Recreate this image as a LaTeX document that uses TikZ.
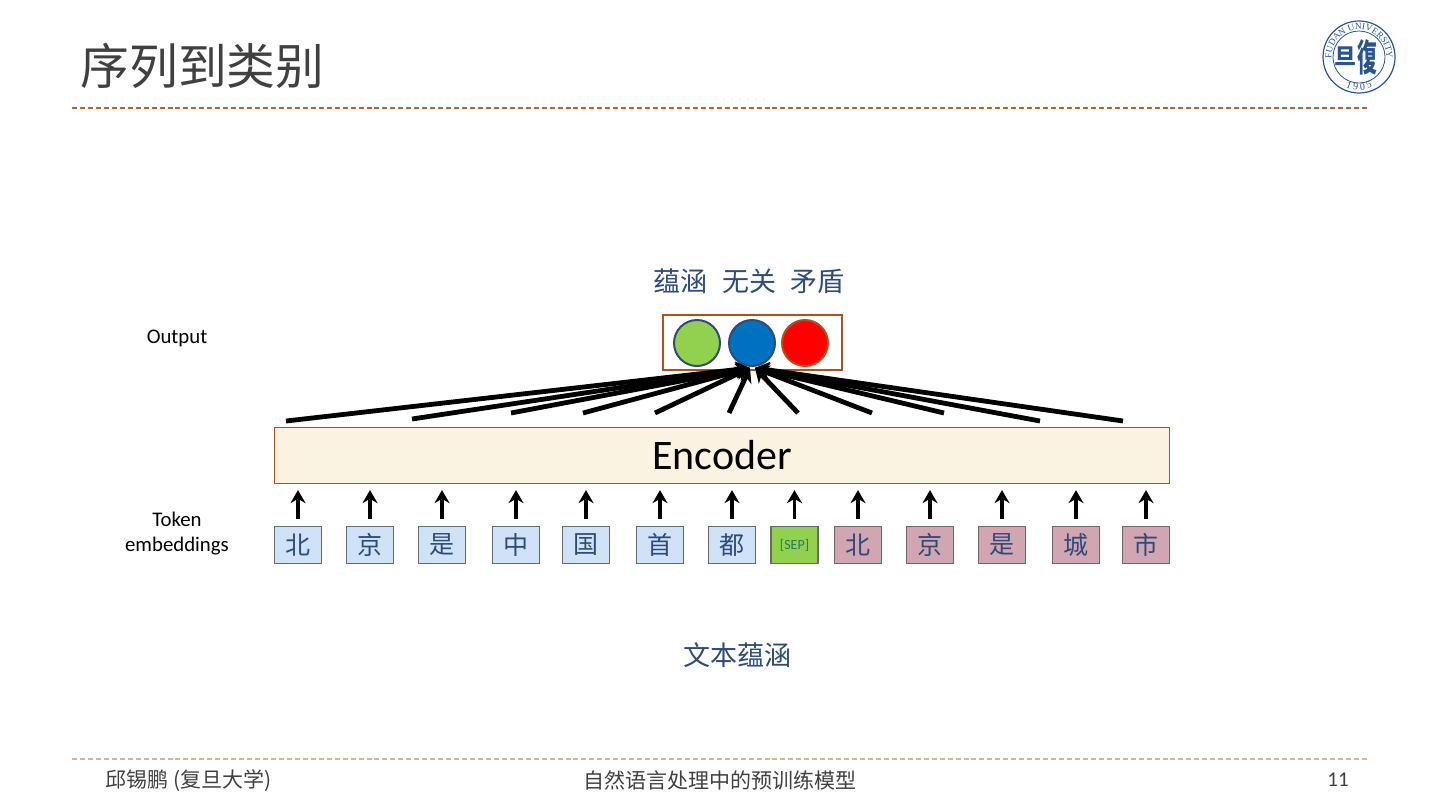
\documentclass[tikz,border=0pt]{standalone}
\usepackage{fontspec}
\setmainfont{Carlito}
\newfontfamily\cjk{Noto Sans CJK SC}
\newfontfamily\seal{Liberation Serif}
\usetikzlibrary{arrows.meta, positioning, calc, decorations.text}
\definecolor{inktitle}{HTML}{404040}
\definecolor{inkblue}{HTML}{2F4B78}
\definecolor{rust}{HTML}{B0501C}
\definecolor{encfill}{HTML}{FBF3E2}
\definecolor{tokblue}{HTML}{CFE2F8}
\definecolor{tokpink}{HTML}{D2A5B2}
\definecolor{tokgreen}{HTML}{92D050}
\definecolor{sealblue}{HTML}{28558F}
\definecolor{ruletan}{HTML}{D8B490}

\begin{document}
\begin{tikzpicture}[
    x=0.5pt, y=-0.5pt,
    tok/.style={draw=black!58, line width=0.65pt, minimum width=23.6pt, minimum height=18.6pt,
                inner sep=0pt, font=\cjk\fontsize{12.5}{14}\selectfont, text=inkblue},
    bluetok/.style={tok, fill=tokblue},
    pinktok/.style={tok, fill=tokpink},
    ball/.style={circle, line width=1pt, minimum size=23pt, inner sep=0pt},
    label/.style={font=\fontsize{10.4}{12.5}\selectfont, align=center},
    cjklabel/.style={font=\cjk\fontsize{13.5}{15}\selectfont, text=inkblue},
    footer/.style={font=\cjk\fontsize{10.5}{12}\selectfont, text=inktitle},
    rule/.style={dash pattern=on 2.5pt off 1.48pt, line width=0.6pt},
    tokarrow/.style={-{Stealth[length=6.5pt,width=7.5pt]}, line width=1.9pt, shorten <=3.5pt, shorten >=3pt},
    fanarrow/.style={-{Stealth[length=7pt,width=8pt]}, line width=2.4pt}
  ]
  \useasboundingbox (0,0) rectangle (1440,810);

  % title and rules
  \node[anchor=west, inner sep=0pt, text=inktitle, font=\cjk\fontsize{24.4}{28}\selectfont] (title) at (80,66) {序列到类别};
  \coordinate (ruleTopL) at (72,108);
  \coordinate (ruleTopR) at (1368,108);
  \coordinate (ruleBotL) at (72,759);
  \coordinate (ruleBotR) at (1368,759);
  \draw[rule, draw=rust!90] (ruleTopL) -- (ruleTopR);
  \draw[rule, draw=ruletan] (ruleBotL) -- (ruleBotR);

  % seal
  \node[circle, draw=sealblue, line width=0.6pt, minimum size=36pt, inner sep=0pt] (logo) at (1359,57) {};
  \node[circle, draw=sealblue, line width=0.4pt, minimum size=26pt, inner sep=0pt] (logoin) at (logo) {};
  \path[decorate, decoration={text along path, text align=center,
        text={|\seal\fontsize{4.6}{5}\selectfont\color{sealblue}|FUDAN UNIVERSITY}}]
    ($(logo)+(-215:27.5)$) arc[start angle=-215, end angle=35, radius=27.5];
  \path[decorate, decoration={text along path, text align=center,
        text={|\seal\fontsize{5}{5}\selectfont\color{sealblue}|1 9 0 5}}]
    ($(logo)+(122:33)$) arc[start angle=122, end angle=58, radius=33];
  \node[text=sealblue, inner sep=0pt, font=\cjk\bfseries\fontsize{11}{11}\selectfont] (logodan) at (1345,56) {旦};
  \node[text=sealblue, inner sep=0pt, xscale=0.9, yscale=1.7, font=\cjk\bfseries\fontsize{11}{11}\selectfont] (logofu) at (1367,57) {復};

  % output
  \node[draw=rust, line width=0.8pt, minimum width=89.5pt, minimum height=27.5pt, inner sep=0pt] (out) at (752.5,342.5) {};
  \node[ball, draw=inkblue, fill=tokgreen] (ballA) at (697,343) {};
  \node[ball, draw=inkblue, fill={rgb,255:red,0;green,112;blue,192}] (ballB) at (752,343) {};
  \node[ball, draw=rust, fill=red] (ballC) at (805,343) {};
  \node[cjklabel] (classes) at (749,281) {蕴涵\hspace{0.55em}无关\hspace{0.55em}矛盾};
  \node[label] (outlabel) at (177,338) {Output};

  % encoder
  \node[draw=rust, line width=0.6pt, fill=encfill, minimum width=447.5pt, minimum height=28pt,
        inner sep=0pt, font=\fontsize{21}{24}\selectfont] (enc) at (722,455.5) {Encoder};
  \coordinate (tipL) at (750,368);
  \coordinate (tipR) at (755,368);
  \foreach \nm/\x/\y in {s1/286/421, s2/412/419, s3/511/413, s4/583/413, s5/655/413, s6/729/413}
    \draw[fanarrow] (\x,\y) coordinate (\nm) -- (tipL);
  \foreach \nm/\x/\y in {s7/798/413, s8/872/413, s9/944/413, s10/1040/421, s11/1123/421}
    \draw[fanarrow] (\x,\y) coordinate (\nm) -- (tipR);

  % tokens
  \foreach \nm/\x/\ch/\st in {t1/298/北/bluetok, t2/370/京/bluetok, t3/442/是/bluetok, t4/516/中/bluetok,
                             t5/586/国/bluetok, t6/660/首/bluetok, t7/732/都/bluetok,
                             t9/858/北/pinktok, t10/930/京/pinktok, t11/1002/是/pinktok,
                             t12/1076/城/pinktok, t13/1146/市/pinktok} {
    \node[\st] (\nm) at (\x,545) {\ch};
    \draw[tokarrow] (\nm.north) -- (\nm.north |- enc.south);
  }
  \node[tok, fill=tokgreen, text=inkblue!70!green, font=\fontsize{7}{8}\selectfont] (t8) at (794.5,545) {[SEP]};
  \draw[tokarrow] (t8.north) -- (t8.north |- enc.south);
  \node[label] (toklabel) at (177,534) {Token\\embeddings};
  \node[cjklabel] (caption) at (737,655) {文本蕴涵};

  % footer
  \node[footer, anchor=west, inner sep=0pt] (author) at (105,781) {邱锡鹏 (复旦大学)};
  \node[footer, inner sep=0pt] (talk) at (720,780) {自然语言处理中的预训练模型};
  \node[footer, font=\fontsize{10.5}{12}\selectfont, inner sep=0pt] (page) at (1338,780) {11};
\end{tikzpicture}
\end{document}
